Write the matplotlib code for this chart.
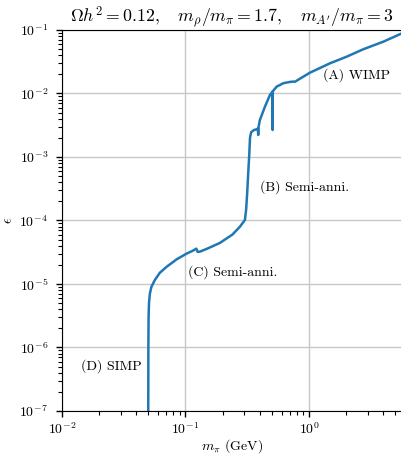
import matplotlib
matplotlib.use("Agg")
import matplotlib.pyplot as plt
import numpy as np

plt.rcParams['font.family'] = 'serif'
plt.rcParams['font.serif'] = ['cmr10']
plt.rcParams['mathtext.fontset'] = 'cm'
plt.rcParams['axes.formatter.use_mathtext'] = True

m_pi = [0.0500, 0.0501, 0.0503, 0.0507, 0.0515, 0.053, 0.0566, 0.062, 0.0705, 0.085,
        0.102, 0.115, 0.1225, 0.1255, 0.131, 0.150, 0.190, 0.240, 0.276, 0.303,
        0.310, 0.316, 0.322, 0.329, 0.333, 0.340, 0.359, 0.377, 0.386, 0.388,
        0.390, 0.400, 0.440, 0.483, 0.507, 0.508, 0.509, 0.547, 0.619, 0.700,
        0.746, 0.770, 0.795, 0.899, 1.02, 1.48, 2.02, 2.75, 4.0, 5.66]
epsilon = [1e-7, 1e-6, 3e-6, 5e-6, 7e-6, 9e-6, 1.16e-5, 1.5e-5, 1.87e-5, 2.45e-5,
           3.0e-5, 3.35e-5, 3.6e-5, 3.2e-5, 3.23e-5, 3.6e-5, 4.43e-5, 6.0e-5, 7.98e-5, 1.02e-4,
           1.5e-4, 2.7e-4, 5.5e-4, 1.16e-3, 2.0e-3, 2.45e-3, 2.66e-3, 2.73e-3, 2.8e-3, 2.22e-3,
           2.9e-3, 3.8e-3, 6.2e-3, 9.47e-3, 1.07e-2, 2.66e-3, 1.08e-2, 1.28e-2, 1.45e-2, 1.52e-2,
           1.54e-2, 1.53e-2, 1.59e-2, 1.84e-2, 2.13e-2, 2.99e-2, 3.80e-2, 4.97e-2, 6.55e-2, 8.87e-2]

labels = ["(A) WIMP", "(B) Semi-anni.", "(C) Semi-anni.", "(D) SIMP"]
label_x = [1.30, 0.40, 0.1047, 0.01426]
label_y = [1.95e-2, 3.37e-4, 1.55e-5, 5.1e-7]

x_major = [1e-2, 1e-1, 1e0]
y_major = [1e-7, 1e-6, 1e-5, 1e-4, 1e-3, 1e-2, 1e-1]

title = r"$\Omega h^2 = 0.12, \quad m_\rho/m_\pi = 1.7, \quad m_{A'}/m_\pi = 3$"

fig = plt.figure(figsize=(4.02, 4.57), dpi=100)
ax = fig.add_axes([0.154, 0.1007, 0.846, 0.8337])
ax.plot(m_pi, epsilon, color='#1f77b4', lw=1.8)
ax.set_xscale('log')
ax.set_yscale('log')

subs = np.arange(2, 10)
x_minor = [s * d for d in [1e-2, 1e-1, 1e0] for s in subs]
y_minor = [s * d for d in y_major[:-1] for s in subs]
ax.set_xticks(x_major)
ax.set_yticks(y_major)
ax.set_xticks(x_minor, minor=True)
ax.set_yticks(y_minor, minor=True)
ax.set_xticklabels([r"$10^{-2}$", r"$10^{-1}$", r"$10^{0}$"])
ax.set_yticklabels([r"$10^{%d}$" % k for k in range(-7, 0)])
ax.set_xticklabels([], minor=True)
ax.set_yticklabels([], minor=True)
ax.set_xlim(1e-2, 5.66)
ax.set_ylim(1e-7, 1e-1)

ax.grid(True, which='major', color='#c8c8c8', lw=1)
ax.spines['right'].set_visible(False)
for lab, x, y in zip(labels, label_x, label_y):
    ax.text(x, y, lab, fontsize=10, va='center', ha='left')
ax.set_title(title, fontsize=12.8, pad=5)
ax.set_xlabel(r"$m_\pi$ (GeV)", fontsize=10, labelpad=0)
ax.set_ylabel(r"$\epsilon$", fontsize=10, labelpad=3)
ax.tick_params(which='major', labelsize=10, pad=6, length=4, width=1, color='black')
ax.tick_params(which='minor', length=3, width=0.8, color='black')
ax.tick_params(axis='x', which='major', pad=3.5)
fig.savefig("out.png", dpi=100)
